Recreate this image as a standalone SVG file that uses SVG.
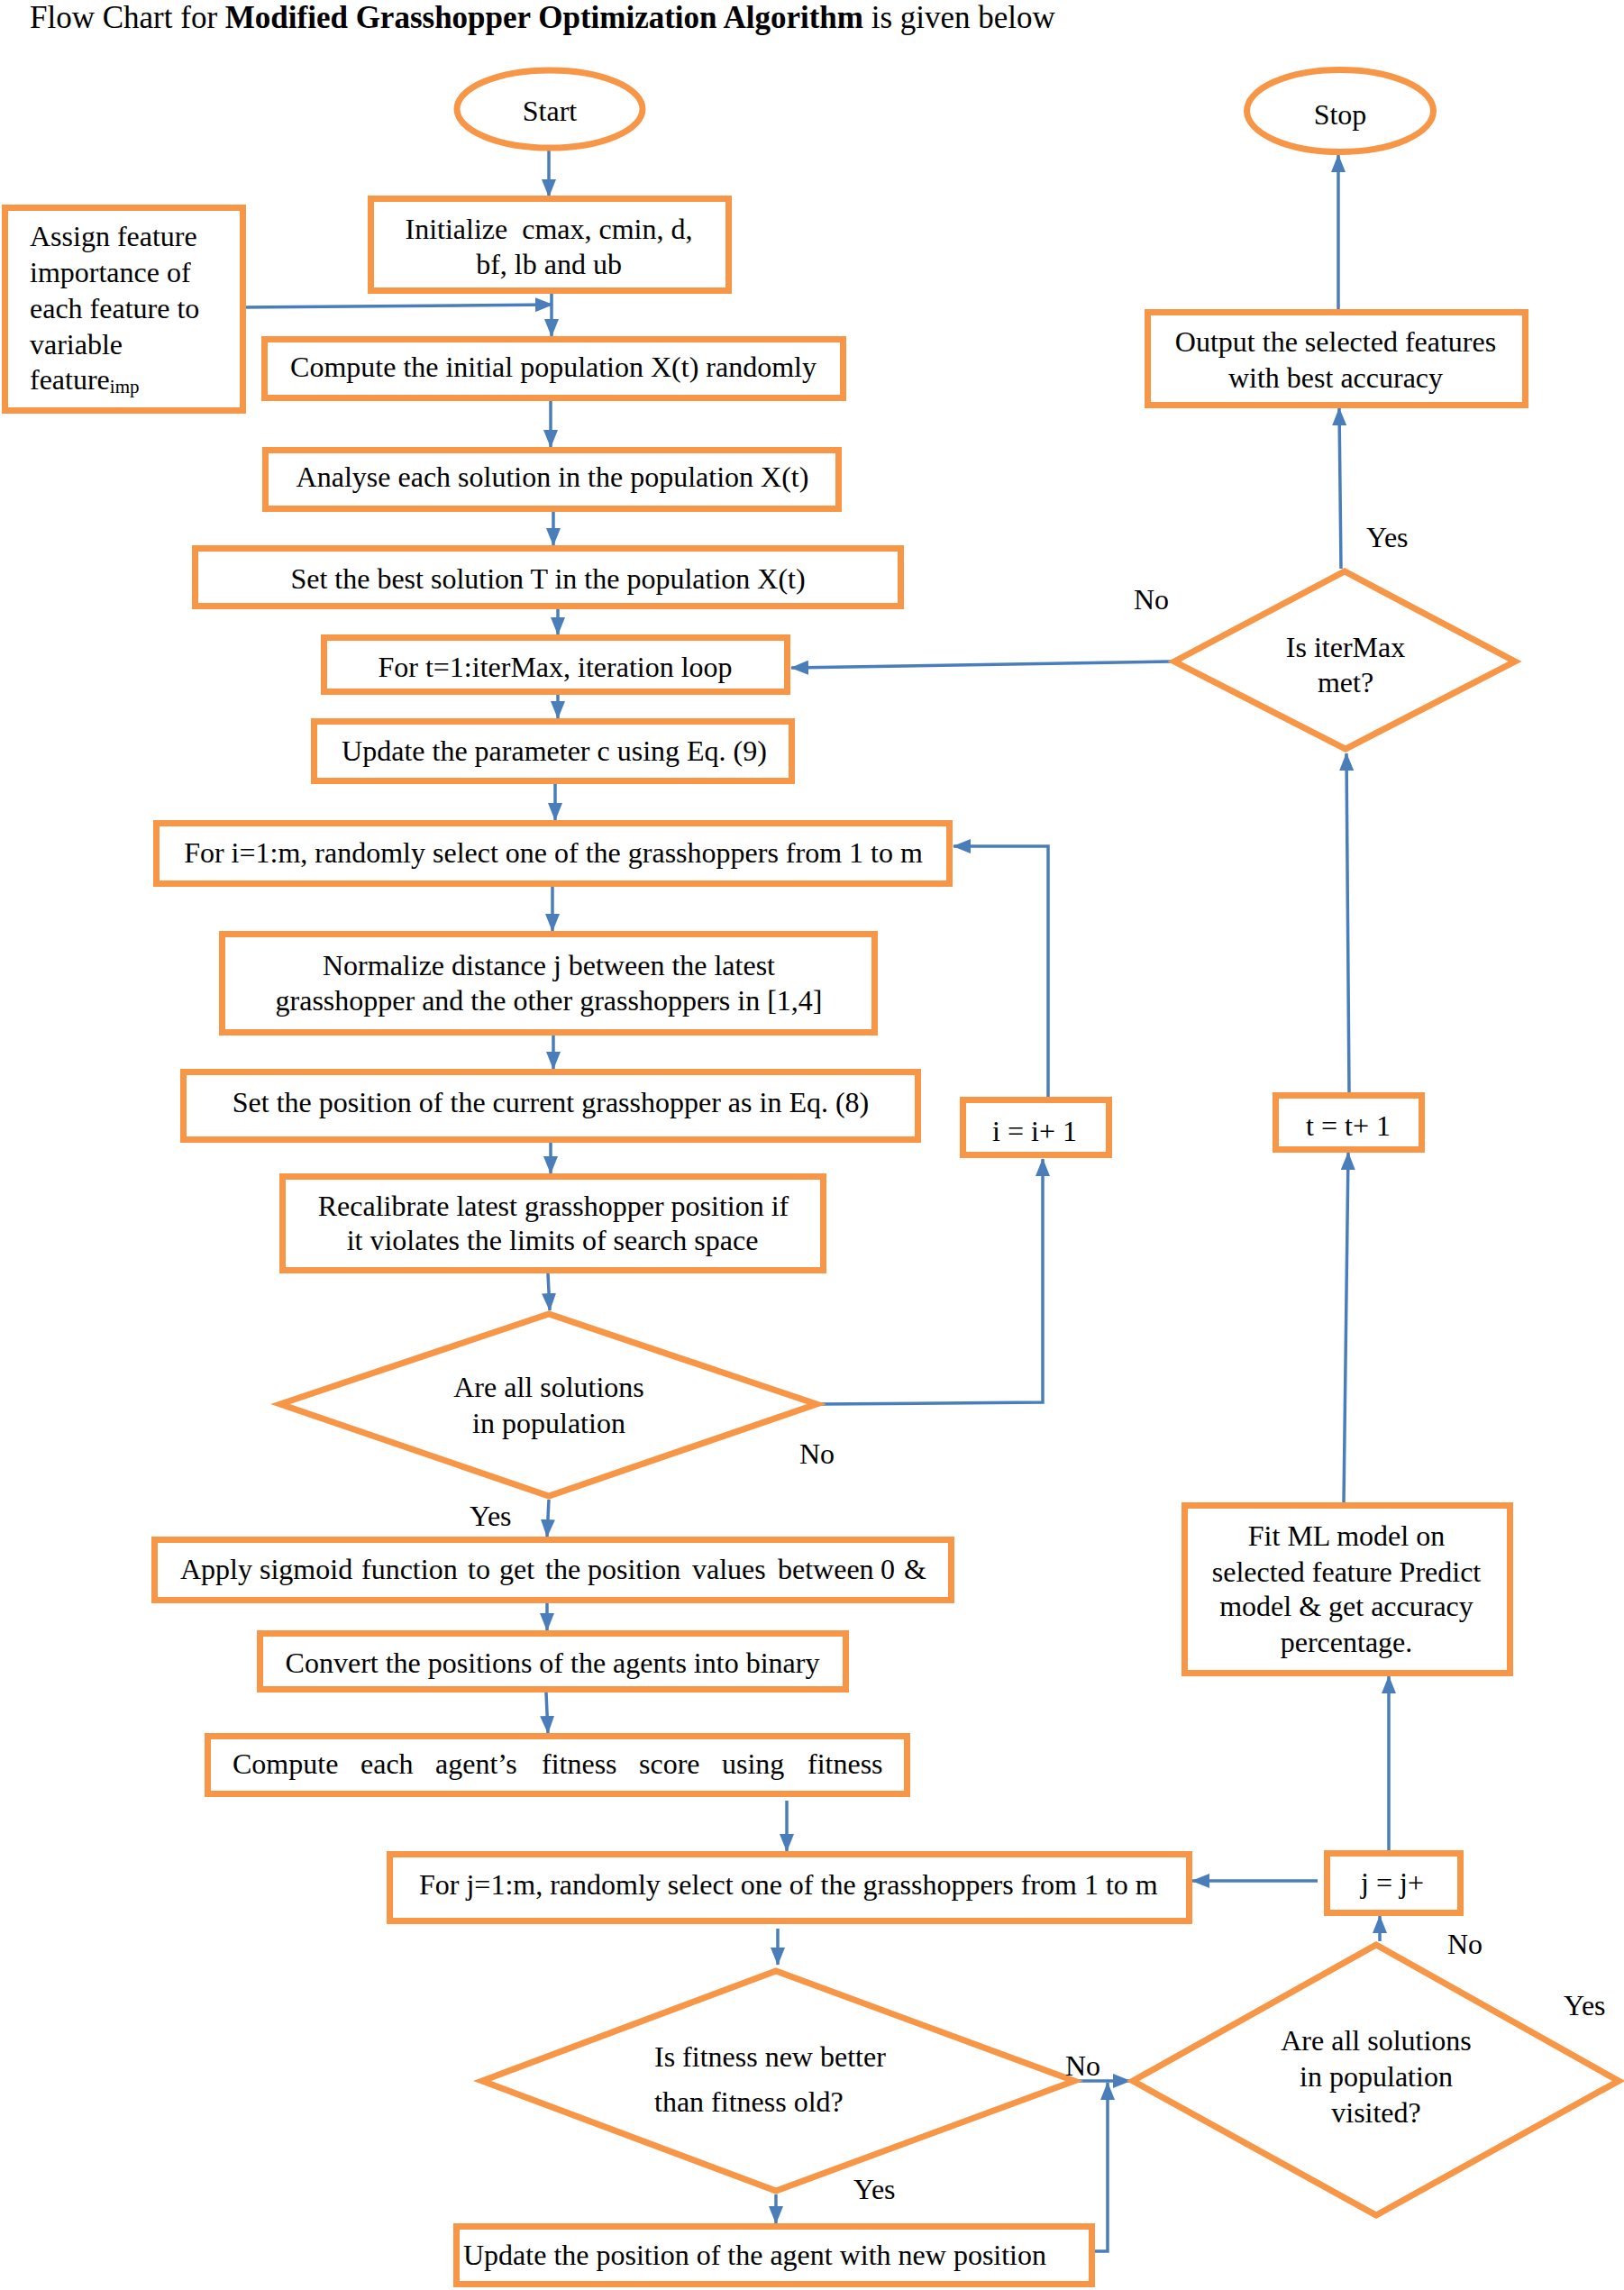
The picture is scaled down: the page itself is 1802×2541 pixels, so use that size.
<svg xmlns="http://www.w3.org/2000/svg" width="1802" height="2541" viewBox="0 0 1802 2541">
<defs>
<style>
.n{fill:#fff;stroke:#F79646;stroke-width:7;stroke-linejoin:miter}
.c{fill:none;stroke:#4A7EBB;stroke-width:3.5}
.t{font-family:"Liberation Serif","Times New Roman",serif;font-size:32px;fill:#000}
.m{text-anchor:middle}
</style>
<marker id="ah" markerWidth="20" markerHeight="16" refX="19" refY="8" orient="auto" markerUnits="userSpaceOnUse">
<path d="M0,0 L20,8 L0,16 z" fill="#4A7EBB"/>
</marker>
</defs>
<rect width="1802" height="2541" fill="#fff"/>
<text class="t" x="33" y="31" style="font-size:35px">Flow Chart for <tspan font-weight="bold">Modified Grasshopper Optimization Algorithm</tspan> is given below</text>

<g id="connectors">
<path class="c" marker-end="url(#ah)" d="M609,167 L609,218"/>
<path class="c" marker-end="url(#ah)" d="M269,341 L613,338"/>
<path class="c" marker-end="url(#ah)" d="M612,326 L612,373"/>
<path class="c" marker-end="url(#ah)" d="M611,445 L611,496"/>
<path class="c" marker-end="url(#ah)" d="M614,568 L614,605"/>
<path class="c" marker-end="url(#ah)" d="M619,676 L619,704"/>
<path class="c" marker-end="url(#ah)" d="M1299,734 L878,741"/>
<path class="c" marker-end="url(#ah)" d="M619,771 L619,797"/>
<path class="c" marker-end="url(#ah)" d="M616,870 L616,910"/>
<path class="c" marker-end="url(#ah)" d="M613,970 L613,1033"/>
<path class="c" marker-end="url(#ah)" d="M614,1149 L614,1186"/>
<path class="c" marker-end="url(#ah)" d="M611,1268 L611,1302"/>
<path class="c" marker-end="url(#ah)" d="M608,1413 L610,1454"/>
<path class="c" marker-end="url(#ah)" d="M910,1558 L1157,1556 L1157,1286"/>
<path class="c" marker-end="url(#ah)" d="M1163,1217 L1163,939 L1058,939"/>
<path class="c" marker-end="url(#ah)" d="M609,1664 L607,1705"/>
<path class="c" marker-end="url(#ah)" d="M607,1779 L607,1809"/>
<path class="c" marker-end="url(#ah)" d="M606,1878 L608,1923"/>
<path class="c" marker-end="url(#ah)" d="M873,1998 L873,2054"/>
<path class="c" marker-end="url(#ah)" d="M863,2140 L863,2180"/>
<path class="c" marker-end="url(#ah)" d="M861,2435 L861,2467"/>
<path class="c" marker-end="url(#ah)" d="M1196,2309 L1254,2309"/>
<path class="c" marker-end="url(#ah)" d="M1215,2498 L1229,2498 L1229,2311"/>
<path class="c" marker-end="url(#ah)" d="M1531,2154 L1531,2126"/>
<path class="c" marker-end="url(#ah)" d="M1462,2087 L1323,2087"/>
<path class="c" marker-end="url(#ah)" d="M1541,2053 L1541,1860"/>
<path class="c" marker-end="url(#ah)" d="M1491,1667 L1496,1279"/>
<path class="c" marker-end="url(#ah)" d="M1497,1212 L1494,836"/>
<path class="c" marker-end="url(#ah)" d="M1488,631 L1486,453"/>
<path class="c" marker-end="url(#ah)" d="M1485,344 L1485,172"/>
</g>

<g id="start"><ellipse class="n" cx="610" cy="121" rx="103" ry="43"/><text class="t m" x="610" y="134">Start</text></g>
<g id="init"><rect class="n" x="411.5" y="220.5" width="397" height="102"/>
<text class="t m" x="609" y="265" xml:space="preserve">Initialize  cmax, cmin, d,</text><text class="t m" x="609" y="304">bf, lb and ub</text></g>
<g id="assign"><rect class="n" x="5.5" y="230.5" width="264" height="225"/>
<text class="t" x="33" y="273">Assign feature</text><text class="t" x="33" y="313">importance of</text><text class="t" x="33" y="353">each feature to</text><text class="t" x="33" y="393">variable</text><text class="t" x="33" y="432">feature<tspan style="font-size:21px" dy="4">imp</tspan></text></g>
<g id="compute-init"><rect class="n" x="293.5" y="376.5" width="642" height="65"/><text class="t m" x="614" y="418">Compute the initial population X(t) randomly</text></g>
<g id="analyse"><rect class="n" x="294.5" y="499.5" width="636" height="65"/><text class="t m" x="613" y="540">Analyse each solution in the population X(t)</text></g>
<g id="set-best"><rect class="n" x="216.5" y="608.5" width="783" height="64"/><text class="t m" x="608" y="653">Set the best solution T in the population X(t)</text></g>
<g id="for-t"><rect class="n" x="359.5" y="707.5" width="514" height="60"/><text class="t m" x="616" y="751">For t=1:iterMax, iteration loop</text></g>
<g id="update-c"><rect class="n" x="348.5" y="800.5" width="530" height="66"/><text class="t m" x="615" y="844">Update the parameter c using Eq. (9)</text></g>
<g id="for-i"><rect class="n" x="173.5" y="913.5" width="880" height="67"/><text class="t m" x="614" y="957">For i=1:m, randomly select one of the grasshoppers from 1 to m</text></g>
<g id="normalize"><rect class="n" x="246.5" y="1036.5" width="724" height="109"/><text class="t m" x="609" y="1082">Normalize distance j between the latest</text><text class="t m" x="609" y="1121">grasshopper and the other grasshoppers in [1,4]</text></g>
<g id="set-pos"><rect class="n" x="203.5" y="1189.5" width="815" height="75"/><text class="t m" x="611" y="1234">Set the position of the current grasshopper as in Eq. (8)</text></g>
<g id="recal"><rect class="n" x="313.5" y="1305.5" width="600" height="104"/><text class="t m" x="614" y="1349">Recalibrate latest grasshopper position if</text><text class="t m" x="613" y="1387">it violates the limits of search space</text></g>
<g id="dec-all"><polygon class="n" points="311,1558 609,1458 906,1558 609,1660"/><text class="t m" x="609" y="1550">Are all solutions</text><text class="t m" x="609" y="1590">in population</text>
<text class="t" x="887" y="1624">No</text><text class="t" x="521" y="1693">Yes</text></g>
<g id="i-inc"><rect class="n" x="1068.5" y="1220.5" width="162" height="61"/><text class="t m" x="1148" y="1266">i = i+ 1</text></g>
<g id="sigmoid"><rect class="n" x="171.5" y="1708.5" width="884" height="67"/>
<text class="t" y="1752"><tspan x="200">Apply</tspan><tspan x="288">sigmoid</tspan><tspan x="401">function</tspan><tspan x="519">to</tspan><tspan x="554">get</tspan><tspan x="605">the</tspan><tspan x="652">position</tspan><tspan x="768">values</tspan><tspan x="863">between</tspan><tspan x="977">0</tspan><tspan x="1003">&amp;</tspan></text></g>
<g id="convert"><rect class="n" x="288.5" y="1812.5" width="650" height="62"/><text class="t m" x="613" y="1856">Convert the positions of the agents into binary</text></g>
<g id="fitness"><rect class="n" x="230.5" y="1926.5" width="776" height="64"/>
<text class="t" y="1968"><tspan x="258">Compute</tspan><tspan x="400">each</tspan><tspan x="483">agent’s</tspan><tspan x="601">fitness</tspan><tspan x="709">score</tspan><tspan x="801">using</tspan><tspan x="896">fitness</tspan></text></g>
<g id="for-j"><rect class="n" x="432.5" y="2057.5" width="887" height="74"/><text class="t" x="465" y="2102">For j=1:m, randomly select one of the grasshoppers from 1 to m</text></g>
<g id="dec-fit"><polygon class="n" points="535,2309 861,2187 1192,2309 861,2431"/><text class="t" x="726" y="2293">Is fitness new better</text><text class="t" x="726" y="2343">than fitness old?</text>
<text class="t" x="947" y="2440">Yes</text><text class="t" x="1182" y="2303">No</text></g>
<g id="update-pos"><rect class="n" x="506.5" y="2470.5" width="705" height="64"/><text class="t" x="514" y="2513">Update the position of the agent with new position</text></g>
<g id="dec-visited"><polygon class="n" points="1257,2309 1527,2158 1796,2309 1527,2458"/><text class="t m" x="1527" y="2275">Are all solutions</text><text class="t m" x="1527" y="2315">in population</text><text class="t m" x="1527" y="2355">visited?</text>
<text class="t" x="1606" y="2168">No</text><text class="t" x="1735" y="2236">Yes</text></g>
<g id="j-inc"><rect class="n" x="1472.5" y="2056.5" width="148" height="66"/><text class="t m" x="1545" y="2100">j = j+</text></g>
<g id="fit-ml"><rect class="n" x="1314.5" y="1670.5" width="361" height="186"/><text class="t m" x="1494" y="1715">Fit ML model on</text><text class="t m" x="1494" y="1755">selected feature Predict</text><text class="t m" x="1494" y="1793">model &amp; get accuracy</text><text class="t m" x="1494" y="1833">percentage.</text></g>
<g id="t-inc"><rect class="n" x="1415.5" y="1215.5" width="162" height="60"/><text class="t m" x="1496" y="1260">t = t+ 1</text></g>
<g id="dec-iter"><polygon class="n" points="1303,734 1492,634 1681,734 1493,831"/><text class="t m" x="1493" y="729">Is iterMax</text><text class="t m" x="1493" y="768">met?</text>
<text class="t" x="1258" y="676">No</text><text class="t" x="1516" y="607">Yes</text></g>
<g id="output"><rect class="n" x="1273.5" y="346.5" width="419" height="103"/><text class="t m" x="1482" y="390">Output the selected features</text><text class="t m" x="1482" y="430">with best accuracy</text></g>
<g id="stop"><ellipse class="n" cx="1487" cy="123" rx="103.5" ry="45.5"/><text class="t m" x="1487" y="138">Stop</text></g>
</svg>
